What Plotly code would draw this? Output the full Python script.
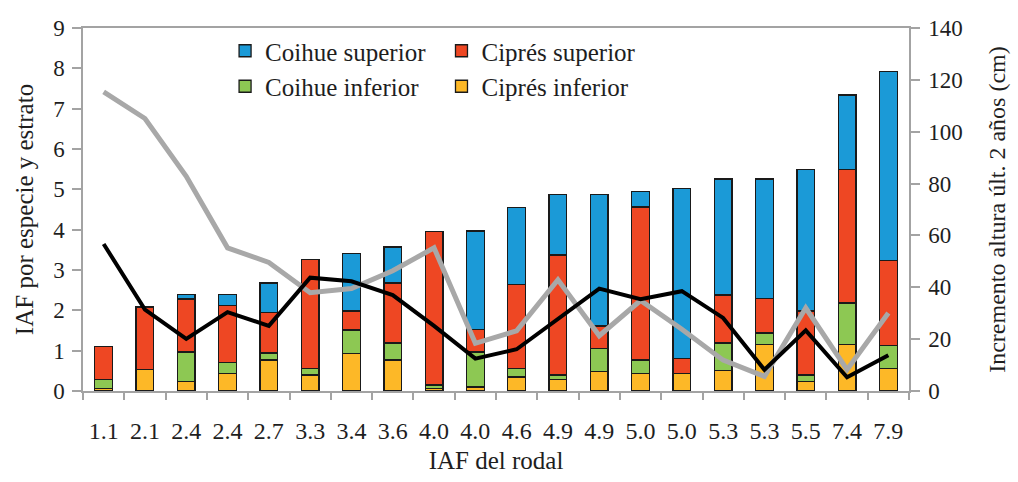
import plotly.graph_objects as go

# Data
iaf_rodal = ["1.1", "2.1", "2.4", "2.4", "2.7", "3.3", "3.4", "3.6", "4.0", "4.0",
             "4.6", "4.9", "4.9", "5.0", "5.0", "5.3", "5.3", "5.5", "7.4", "7.9"]
cipres_inferior = [0.07, 0.53, 0.23, 0.43, 0.77, 0.40, 0.93, 0.77, 0.07, 0.10,
                   0.35, 0.28, 0.48, 0.44, 0.44, 0.50, 1.15, 0.23, 1.15, 0.55]
coihue_inferior = [0.21, 0.00, 0.74, 0.27, 0.17, 0.16, 0.58, 0.42, 0.08, 0.87,
                   0.21, 0.12, 0.57, 0.33, 0.00, 0.69, 0.29, 0.17, 1.03, 0.58]
cipres_superior = [0.82, 1.55, 1.31, 1.42, 1.00, 2.70, 0.47, 1.49, 3.80, 0.55,
                   2.08, 2.97, 0.56, 3.79, 0.37, 1.19, 0.86, 1.58, 3.31, 2.11]
coihue_superior = [0.00, 0.00, 0.12, 0.28, 0.74, 0.00, 1.43, 0.89, 0.00, 2.45,
                   1.91, 1.51, 3.27, 0.38, 4.21, 2.88, 2.96, 3.52, 1.85, 4.68]
incremento_gris = [115.4, 105.1, 82.8, 55.2, 49.6, 37.9, 39.5, 46.4, 55.2, 18.4,
                   23.2, 42.9, 21.3, 34.9, 23.8, 11.9, 5.6, 32.0, 8.2, 30.1]
incremento_negro = [56.7, 31.4, 20.1, 30.4, 25.1, 43.7, 42.3, 37.0, 25.1, 12.5,
                    16.1, 27.6, 39.5, 35.4, 38.5, 28.2, 8.2, 23.4, 5.3, 13.8]

x = list(range(len(iaf_rodal)))

FONT = "Liberation Serif"
AXIS_GRAY = "#A3A3A3"
TEXT = "#1e1e1e"

fig = go.Figure()

bar_specs = [
    ("Ciprés inferior", cipres_inferior, "#FDB827", "legend2"),
    ("Coihue inferior", coihue_inferior, "#8DC853", "legend"),
    ("Ciprés superior", cipres_superior, "#EE4723", "legend2"),
    ("Coihue superior", coihue_superior, "#1B9AD7", "legend"),
]
for name, vals, color, leg in bar_specs:
    fig.add_trace(go.Bar(
        x=x, y=vals, name=name, legend=leg,
        marker=dict(color=color, line=dict(color="#1a1a1a", width=1.3)),
    ))

fig.add_trace(go.Scatter(
    x=x, y=incremento_gris, yaxis="y2", mode="lines", showlegend=False,
    line=dict(color="#A8A8A8", width=5),
))
fig.add_trace(go.Scatter(
    x=x, y=incremento_negro, yaxis="y2", mode="lines", showlegend=False,
    line=dict(color="#000000", width=4),
))

fig.update_layout(
    width=1018, height=482,
    margin=dict(l=83, r=93, t=28, b=82),
    paper_bgcolor="white", plot_bgcolor="white",
    barmode="stack", bargap=0.57,
    font=dict(family=FONT, size=22, color=TEXT),
    xaxis=dict(
        range=[-0.5, len(x) - 0.5],
        tickmode="array", tickvals=x, ticktext=iaf_rodal,
        ticks="", showline=True, linecolor=AXIS_GRAY, linewidth=1.5, mirror=True,
        showgrid=False, zeroline=False,
        minor=dict(tickmode="array", tickvals=[i - 0.5 for i in range(len(x) + 1)],
                   ticks="outside", ticklen=7, tickcolor=AXIS_GRAY, tickwidth=1.5),
        ticklabelstandoff=17,
        title=dict(text="IAF del rodal", font=dict(size=25), standoff=9),
        tickfont=dict(size=24),
    ),
    yaxis=dict(
        range=[0, 9], dtick=1, ticks="outside", ticklen=9, tickcolor=AXIS_GRAY, tickwidth=1.5,
        showline=True, linecolor=AXIS_GRAY, linewidth=1.5, showgrid=False, zeroline=False,
        ticklabelstandoff=3,
        title=dict(text="IAF por especie y estrato", font=dict(size=25), standoff=12),
        tickfont=dict(size=23),
    ),
    yaxis2=dict(
        range=[0, 140], dtick=20, overlaying="y", side="right",
        ticks="outside", ticklen=9, tickcolor=AXIS_GRAY, tickwidth=1.5,
        showline=True, linecolor=AXIS_GRAY, linewidth=1.5, showgrid=False, zeroline=False,
        ticklabelstandoff=4,
        title=dict(text="Incremento altura últ. 2 años (cm)", font=dict(size=24), standoff=26),
        tickfont=dict(size=23),
    ),
    legend=dict(
        x=0.172, y=1.0, xanchor="left", yanchor="top", traceorder="reversed",
        bgcolor="rgba(0,0,0,0)", font=dict(size=25), tracegroupgap=0, itemclick=False,
    ),
    legend2=dict(
        x=0.434, y=1.0, xanchor="left", yanchor="top", traceorder="reversed",
        bgcolor="rgba(0,0,0,0)", font=dict(size=25), tracegroupgap=0, itemclick=False,
    ),
)

fig.write_html(
    "out.html",
    config={"displayModeBar": False},
    post_script="document.body.style.margin='0';document.body.style.overflow='hidden';",
)
